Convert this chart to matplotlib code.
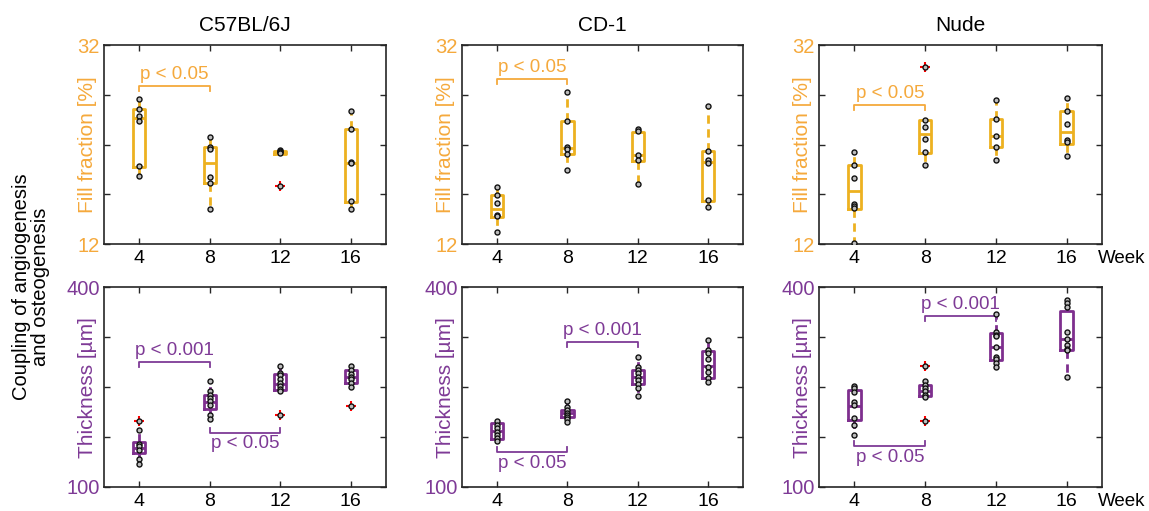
import matplotlib.pyplot as plt

plt.rcParams['font.family'] = ['Liberation Sans', 'DejaVu Sans']

weeks = [4, 8, 12, 16]
strains = ['C57BL/6J', 'CD-1', 'Nude']

# fill fraction [%] - individual samples per week
fill_c57 = [[26.55, 25.58, 24.88, 24.41, 19.86, 18.79],
            [22.77, 21.70, 21.57, 18.76, 18.15, 15.51],
            [21.42, 21.30, 21.22, 21.12, 17.85],
            [25.34, 23.57, 20.26, 20.13, 16.31, 15.51]]
fill_cd1 = [[17.69, 16.88, 16.15, 14.94, 14.78, 13.20],
            [27.32, 24.41, 21.70, 21.57, 21.06, 19.39],
            [23.54, 23.37, 20.96, 20.43, 18.02],
            [25.85, 21.30, 20.46, 20.19, 16.41, 15.75]]
fill_nude = [[21.20, 19.96, 18.59, 16.05, 15.85, 15.61, 12.07],
             [29.83, 24.44, 23.71, 22.60, 21.20, 19.96],
             [26.48, 24.54, 22.90, 21.77, 20.43],
             [26.72, 25.38, 24.07, 22.43, 22.27, 20.80]]

# box (q1, median, q3) as drawn
fill_c57_box = [(19.76, 24.64, 25.60), (18.15, 20.19, 21.77), (21.08, 21.20, 21.30), (16.21, 20.19, 23.57)]
fill_cd1_box = [(14.71, 15.55, 16.88), (21.06, 21.63, 24.41), (20.36, 20.96, 23.30), (16.28, 20.26, 21.30)]
fill_nude_box = [(15.55, 17.28, 19.96), (21.14, 23.07, 24.44), (21.70, 22.90, 24.54), (22.07, 23.30, 25.38)]

# thickness [um]
thick_c57 = [[199, 185, 164, 161, 156, 142, 134],
             [258.5, 243.5, 237.5, 233.5, 229, 222.5, 207.5, 202.5],
             [281, 271.5, 267.5, 262.5, 256.5, 251.5, 247.5, 243.5, 207.5],
             [281, 275.5, 270, 265.5, 261.5, 256.5, 250.5, 221.5]]
thick_cd1 = [[198.5, 193.5, 189, 183, 178, 173.5, 169],
             [229, 220.5, 215.5, 211.5, 208.5, 205, 201.5, 198],
             [295, 279.5, 275.5, 270.5, 265, 260, 254, 248.5, 236],
             [321, 306, 301.5, 292.5, 280.5, 272.5, 264, 257.5]]
thick_nude = [[251.5, 249, 242.5, 227.5, 222.5, 203.5, 192.5, 178],
              [281, 258.5, 253.5, 248, 243.5, 237.5, 234.5, 199.5],
              [359, 332.5, 328.5, 326.5, 310.5, 295.5, 292.5, 285.5, 280.5],
              [381.5, 376.5, 370, 332.5, 322.5, 313.5, 307.5, 305, 265.5]]

thick_c57_box = [(151, 158, 168), (217.5, 227.5, 238), (246, 254, 269), (256.5, 265.5, 275.5)]
thick_cd1_box = [(172.5, 184, 195.5), (205, 210.5, 215.5), (255, 265.5, 275.5), (264, 281, 304)]
thick_nude_box = [(200, 221.5, 245.5), (236, 244.5, 253), (290.5, 310.5, 330.5), (306, 322.5, 364.5)]

# significance brackets: (week from, week to, y, side, label)
fill_sig = [[(4, 8, 27.9, 'up', 'p < 0.05')],
            [(4, 8, 28.56, 'up', 'p < 0.05')],
            [(4, 8, 26.0, 'up', 'p < 0.05')]]
thick_sig = [[(4, 8, 287.5, 'up', 'p < 0.001'), (8, 12, 181.5, 'down', 'p < 0.05')],
             [(4, 8, 152.5, 'down', 'p < 0.05'), (8, 12, 318, 'up', 'p < 0.001')],
             [(4, 8, 161.5, 'down', 'p < 0.05'), (8, 12, 356.5, 'up', 'p < 0.001')]]

orange_box = '#EDB120'
orange_txt = '#F5A93C'
purple_box = '#7E2F8E'
purple_txt = '#7E3A96'


def draw_panel(ax, points, boxes, boxcolor, txtcolor, ylim, yticks, ylabel, sigs):
    stats = []
    fliers = []
    for pos, pts, (q1, med, q3) in zip(weeks, points, boxes):
        iqr = q3 - q1
        lo_f, hi_f = q1 - 1.5 * iqr, q3 + 1.5 * iqr
        inside = [p for p in pts if lo_f <= p <= hi_f]
        out = [p for p in pts if p < lo_f or p > hi_f]
        stats.append(dict(med=med, q1=q1, q3=q3,
                          whislo=min(min(inside), q1), whishi=max(max(inside), q3),
                          fliers=[]))
        fliers += [(pos, p) for p in out]
    ax.bxp(stats, positions=weeks, widths=0.7, showcaps=False, showfliers=False,
           boxprops=dict(color=boxcolor, lw=2.0),
           medianprops=dict(color=boxcolor, lw=2.0),
           whiskerprops=dict(color=boxcolor, lw=2.0, linestyle=(0, (3, 2))))
    if fliers:
        ax.plot([f[0] for f in fliers], [f[1] for f in fliers], '+', color='red',
                ms=7, mew=1.5, zorder=4)
    for pos, pts in zip(weeks, points):
        ax.plot([pos] * len(pts), pts, 'o', ms=3.6, mfc='#bdbdbd', mec='#111111',
                mew=1.0, zorder=5)

    tip = 0.025 * (ylim[1] - ylim[0])
    for x0, x1, y, side, label in sigs:
        d = -tip if side == 'up' else tip
        ax.plot([x0, x0, x1, x1], [y + d, y, y, y + d], color=txtcolor, lw=1.3)
        off = 2 if side == 'up' else -2
        ax.annotate(label, xy=((x0 + x1) / 2, y), xytext=(0, off), textcoords='offset points',
                    ha='center', va='bottom' if side == 'up' else 'top',
                    color=txtcolor, fontsize=13.5)

    ax.set_xlim(2, 18)
    ax.set_ylim(*ylim)
    ax.set_xticks(weeks)
    ax.set_xticklabels([str(w) for w in weeks])
    ax.set_yticks(yticks)
    ax.set_yticklabels([str(yticks[0]), '', '', '', str(yticks[-1])])
    ax.tick_params(direction='in', top=True, right=True, length=4, width=1,
                   color='#262626', labelsize=14)
    ax.tick_params(axis='x', pad=4.5)
    ax.tick_params(axis='y', pad=3, labelcolor=txtcolor, labelsize=14.5)
    for s in ax.spines.values():
        s.set_color('#262626')
        s.set_linewidth(1.2)
    ax.set_ylabel(ylabel, color=txtcolor, fontsize=15)
    ax.yaxis.set_label_coords(-0.025, 0.5)


fig = plt.figure(figsize=(11.49, 5.11), dpi=100)

lefts = [0.0905, 0.4021, 0.7128]
widths = [0.2454, 0.2446, 0.2463]

fill_data = [fill_c57, fill_cd1, fill_nude]
fill_boxes = [fill_c57_box, fill_cd1_box, fill_nude_box]
thick_data = [thick_c57, thick_cd1, thick_nude]
thick_boxes = [thick_c57_box, thick_cd1_box, thick_nude_box]

for i in range(3):
    ax1 = fig.add_axes([lefts[i], 0.5225, widths[i], 0.3894])
    draw_panel(ax1, fill_data[i], fill_boxes[i], orange_box, orange_txt,
               (12, 32), [12, 17, 22, 27, 32], 'Fill fraction [%]', fill_sig[i])
    ax1.set_title(strains[i], fontsize=15, pad=10)

    ax2 = fig.add_axes([lefts[i], 0.047, widths[i], 0.391])
    draw_panel(ax2, thick_data[i], thick_boxes[i], purple_box, purple_txt,
               (100, 400), [100, 175, 250, 325, 400], 'Thickness [µm]', thick_sig[i])

    if i == 2:
        for ax in (ax1, ax2):
            ax.annotate('Week', xy=(1, 0), xycoords='axes fraction', xytext=(-3, -4.5),
                        textcoords='offset points', ha='left', va='top', fontsize=13.5)

fig.text(0.027, 0.438, 'Coupling of angiogenesis\nand osteogenesis', rotation=90,
         ha='center', va='center', fontsize=14.5, multialignment='center', linespacing=1.05)

fig.savefig('out.png', dpi=100)
